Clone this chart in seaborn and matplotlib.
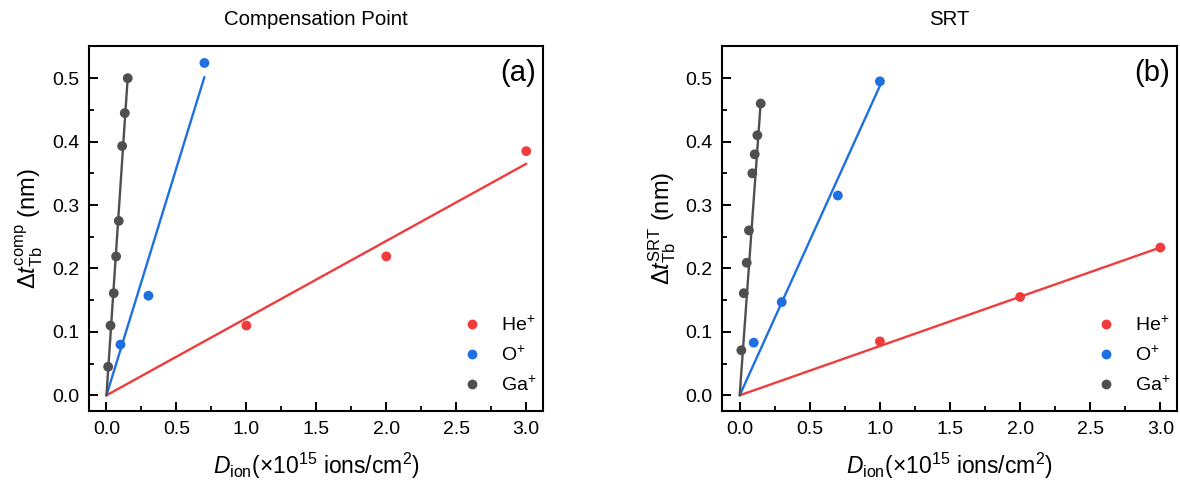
import numpy as np
import pandas as pd
import matplotlib
matplotlib.use("Agg")
import matplotlib.pyplot as plt
import seaborn as sns
from matplotlib.ticker import MultipleLocator

# ---------------- data ----------------
ions = ["He$^{+}$", "O$^{+}$", "Ga$^{+}$"]
colors = ["#F03C3C", "#1E6FE0", "#4F4F4F"]

# Panel (a) Compensation point
a_he_x = [1.0, 2.0, 3.0]
a_he_y = [0.110, 0.219, 0.385]
a_o_x = [0.1, 0.3, 0.7]
a_o_y = [0.080, 0.157, 0.524]
a_ga_x = [0.012, 0.029, 0.052, 0.069, 0.088, 0.112, 0.131, 0.152]
a_ga_y = [0.045, 0.110, 0.161, 0.219, 0.275, 0.393, 0.445, 0.500]
# fitted slopes (nm per 1e15 ions/cm2)
a_slopes = [0.1217, 0.717, 3.30]

# Panel (b) SRT
b_he_x = [1.0, 2.0, 3.0]
b_he_y = [0.085, 0.155, 0.233]
b_o_x = [0.1, 0.3, 0.7, 1.0]
b_o_y = [0.083, 0.147, 0.315, 0.495]
b_ga_x = [0.012, 0.029, 0.050, 0.066, 0.090, 0.107, 0.126, 0.150]
b_ga_y = [0.071, 0.161, 0.209, 0.260, 0.350, 0.380, 0.410, 0.460]
b_slopes = [0.0777, 0.488, 3.08]

titles = ["Compensation Point", "SRT"]
panel_tags = ["(a)", "(b)"]
ylabels = [r"$\mathit{\Delta t}_{\mathrm{Tb}}^{\mathrm{comp}}$ (nm)",
           r"$\mathit{\Delta t}_{\mathrm{Tb}}^{\mathrm{SRT}}$ (nm)"]
xlabel = r"$\mathit{D}_{\mathrm{ion}}$(×10$^{15}$ ions/cm$^{2}$)"
xticks = [0.0, 0.5, 1.0, 1.5, 2.0, 2.5, 3.0]
yticks = [0.0, 0.1, 0.2, 0.3, 0.4, 0.5]

# ---------------- style ----------------
sns.set_theme(style="ticks")
plt.rcParams["font.family"] = ["Liberation Sans", "DejaVu Sans"]
plt.rcParams["mathtext.fontset"] = "custom"
plt.rcParams["mathtext.rm"] = "Liberation Sans"
plt.rcParams["mathtext.it"] = "Liberation Sans:italic"
plt.rcParams["mathtext.bf"] = "Liberation Sans:bold"
for key in ["text.color", "axes.labelcolor", "xtick.color", "ytick.color",
            "axes.edgecolor"]:
    plt.rcParams[key] = "black"

fig = plt.figure(figsize=(11.8, 4.93), dpi=100)
ax_a = fig.add_axes([0.0754, 0.166, 0.3848, 0.741])
ax_b = fig.add_axes([0.612, 0.166, 0.3856, 0.741])

panels = [
    (ax_a, [(a_he_x, a_he_y), (a_o_x, a_o_y), (a_ga_x, a_ga_y)], a_slopes),
    (ax_b, [(b_he_x, b_he_y), (b_o_x, b_o_y), (b_ga_x, b_ga_y)], b_slopes),
]

for i, (ax, series, slopes) in enumerate(panels):
    frames = []
    for name, (xs, ys) in zip(ions, series):
        frames.append(pd.DataFrame({"x": xs, "y": ys, "ion": name}))
    df = pd.concat(frames, ignore_index=True)

    # linear fits through origin
    for col, k, (xs, ys) in zip(colors, slopes, series):
        fx = np.array([0.0, max(xs)])
        sns.lineplot(x=fx, y=k * fx, ax=ax, color=col, lw=1.7, legend=False, zorder=2)

    sns.scatterplot(data=df, x="x", y="y", hue="ion", palette=colors,
                    hue_order=ions, s=50, edgecolor="none", ax=ax, zorder=3)

    ax.set_xlim(-0.125, 3.12)
    ax.set_ylim(-0.025, 0.551)
    ax.set_xticks(xticks)
    ax.set_yticks(yticks)
    ax.set_xticklabels([f"{v:.1f}" for v in xticks])
    ax.set_yticklabels([f"{v:.1f}" for v in yticks])
    ax.xaxis.set_minor_locator(MultipleLocator(0.25))
    ax.yaxis.set_minor_locator(MultipleLocator(0.05))
    ax.tick_params(which="major", direction="in", length=6.5, width=1.4,
                   labelsize=14, colors="black", pad=7)
    ax.tick_params(which="minor", direction="in", length=3.5, width=1.3)
    for sp in ax.spines.values():
        sp.set_linewidth(1.5)
        sp.set_color("black")
        sp.set_visible(True)

    ax.set_xlabel(xlabel, fontsize=16.5, labelpad=9)
    ax.set_ylabel(ylabels[i], fontsize=17, labelpad=5)
    ax.set_title(titles[i], fontsize=14.7, pad=15)
    ax.text(0.984, 0.965, panel_tags[i], transform=ax.transAxes, ha="right",
            va="top", fontsize=21)

    ax.legend(loc="lower right", frameon=False, fontsize=14,
              handletextpad=0.5, labelspacing=0.55, borderpad=0,
              borderaxespad=0, bbox_to_anchor=(0.985, 0.045))

fig.savefig("out.png", dpi=100)
